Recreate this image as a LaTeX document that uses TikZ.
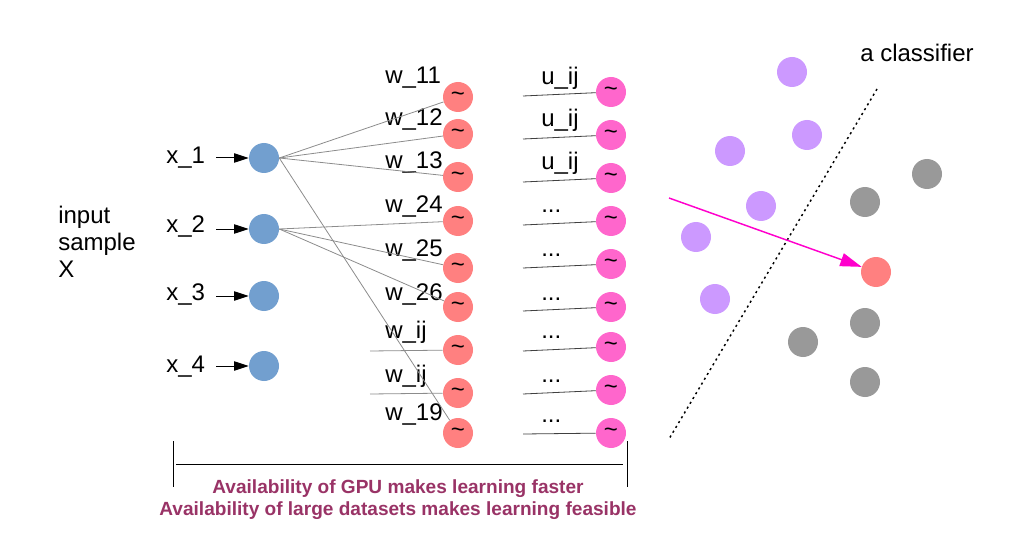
\documentclass[tikz,border=0pt]{standalone}
\usepackage{fontspec}
\setmainfont{Liberation Sans}
\usepackage{tikz}
\usetikzlibrary{arrows.meta,
	positioning
}
\definecolor{InBlue}{HTML}{729FCF}
\definecolor{HidRed}{HTML}{FF8080}
\definecolor{OutPink}{HTML}{FF66CC}
\definecolor{ClassA}{HTML}{CC99FF}
\definecolor{ClassB}{HTML}{999999}
\definecolor{PathMag}{HTML}{FF00CC}
\definecolor{NoteRed}{HTML}{993366}
\tikzset{Perceptron/.style = {
		x=0.75pt, y=-0.75pt,
		every node/.style = {inner sep=0pt, font=\fontsize{18}{20.25}\selectfont},
		neuron/.style = {circle, minimum size=22.5pt, font=\fontsize{18}{18}\selectfont},
		inunit/.style = {neuron, fill=InBlue},
		hidunit/.style = {neuron, fill=HidRed},
		outunit/.style = {neuron, fill=OutPink},
		sampledot/.style = {circle, minimum size=22.5pt},
		wlabel/.style = {anchor=base west},
		weight/.style = {draw=black!45, line width=0.6pt},
		uweight/.style = {draw=black!75, line width=0.6pt},
		inarrow/.style = {-{Triangle[length=11pt, width=7pt]}, line width=0.75pt,
			shorten <=8.25pt},
		boundary/.style = {line width=1.1pt, dash pattern=on 1.6pt off 2.6pt},
		notetext/.style = {align=center, text=NoteRed,
			font=\fontsize{14.3}{16.5}\selectfont\bfseries},
	}% end of Perceptron style
}

\begin{document}
\begin{tikzpicture}[Perceptron]
  \useasboundingbox (0,0) rectangle (1021,556);

  % input layer
  \node[wlabel, align=left] (sample) at (58,277) {input\\sample\\X};
  \node[inunit] (in1) at (264,158) {};
  \node[inunit] (in2) at (264,229) {};
  \node[inunit] (in3) at (264,296) {};
  \node[inunit] (in4) at (264,366) {};
  \node[wlabel] (xl1) at (166,164) {x\_1};
  \node[wlabel] (xl2) at (166,233) {x\_2};
  \node[wlabel] (xl3) at (166,300) {x\_3};
  \node[wlabel] (xl4) at (166,372) {x\_4};
  \draw[inarrow] (xl1.east |- in1) -- (in1);
  \draw[inarrow] (xl2.east |- in2) -- (in2);
  \draw[inarrow] (xl3.east |- in3) -- (in3);
  \draw[inarrow] (xl4.east |- in4) -- (in4);

  % hidden layer
  \node[hidunit] (h1) at (458,97) {\textasciitilde};
  \node[hidunit] (h2) at (458,134) {\textasciitilde};
  \node[hidunit] (h3) at (458,177) {\textasciitilde};
  \node[hidunit] (h4) at (458,221) {\textasciitilde};
  \node[hidunit] (h5) at (458,268) {\textasciitilde};
  \node[hidunit] (h6) at (458,307) {\textasciitilde};
  \node[hidunit] (h7) at (458,350) {\textasciitilde};
  \node[hidunit] (h8) at (458,393) {\textasciitilde};
  \node[hidunit] (h9) at (458,433) {\textasciitilde};
  \node[wlabel] (wl1) at (385,84) {w\_11};
  \node[wlabel] (wl2) at (385,126) {w\_12};
  \node[wlabel] (wl3) at (385,169) {w\_13};
  \node[wlabel] (wl4) at (385,213) {w\_24};
  \node[wlabel] (wl5) at (385,257) {w\_25};
  \node[wlabel] (wl6) at (385,300) {w\_26};
  \node[wlabel] (wl7) at (385,338) {w\_ij};
  \node[wlabel] (wl8) at (385,382) {w\_ij};
  \node[wlabel] (wl9) at (385,420) {w\_19};
  \coordinate (wf7) at (370,351);
  \coordinate (wf8) at (370,394);
  \draw[weight] (in1.east) -- (h1);
  \draw[weight] (in1.east) -- (h2);
  \draw[weight] (in1.east) -- (h3);
  \draw[weight] (in1.east) -- (h9);
  \draw[weight] (in2.east) -- (h4);
  \draw[weight] (in2.east) -- (h5);
  \draw[weight] (in2.east) -- (h6);
  \draw[weight] (wf7) -- (h7);
  \draw[weight] (wf8) -- (h8);

  % output layer
  \node[outunit] (o1) at (611,92) {\textasciitilde};
  \node[outunit] (o2) at (611,135) {\textasciitilde};
  \node[outunit] (o3) at (611,178) {\textasciitilde};
  \node[outunit] (o4) at (611,221) {\textasciitilde};
  \node[outunit] (o5) at (611,264) {\textasciitilde};
  \node[outunit] (o6) at (611,307) {\textasciitilde};
  \node[outunit] (o7) at (611,347) {\textasciitilde};
  \node[outunit] (o8) at (611,390) {\textasciitilde};
  \node[outunit] (o9) at (611,433) {\textasciitilde};
  \node[wlabel] (ul1) at (541,85) {u\_ij};
  \node[wlabel] (ul2) at (541,127) {u\_ij};
  \node[wlabel] (ul3) at (541,170) {u\_ij};
  \node[wlabel] (ul4) at (541,213) {...};
  \node[wlabel] (ul5) at (541,257) {...};
  \node[wlabel] (ul6) at (541,300) {...};
  \node[wlabel] (ul7) at (541,338) {...};
  \node[wlabel] (ul8) at (541,382) {...};
  \node[wlabel] (ul9) at (541,422) {...};
  \coordinate (uf1) at (523,96);
  \coordinate (uf2) at (523,139);
  \coordinate (uf3) at (523,182);
  \coordinate (uf4) at (523,225);
  \coordinate (uf5) at (523,268);
  \coordinate (uf6) at (523,311);
  \coordinate (uf7) at (523,351);
  \coordinate (uf8) at (523,394);
  \coordinate (uf9) at (523,434);
  \draw[uweight] (uf1) -- (o1);
  \draw[uweight] (uf2) -- (o2);
  \draw[uweight] (uf3) -- (o3);
  \draw[uweight] (uf4) -- (o4);
  \draw[uweight] (uf5) -- (o5);
  \draw[uweight] (uf6) -- (o6);
  \draw[uweight] (uf7) -- (o7);
  \draw[uweight] (uf8) -- (o8);
  \draw[uweight] (uf9) -- (o9);

  % bracket and note
  \draw[line width=0.75pt] (173,441) -- (173,487);
  \draw[line width=0.75pt] (627,441) -- (627,487);
  \draw[line width=0.75pt] (176,464) -- (623,464);
  \node[notetext, anchor=base] (note) at (398,515)
    {Availability of GPU makes learning faster\\Availability of large datasets makes learning feasible};

  % classifier
  \node[wlabel] (cltext) at (860,62) {a classifier};
  \coordinate (cltop) at (877,89);
  \coordinate (clbot) at (669,439);
  \draw[boundary] (cltop) -- (clbot);
  \node[sampledot, fill=ClassA] (a1) at (792,72) {};
  \node[sampledot, fill=ClassA] (a2) at (807,135) {};
  \node[sampledot, fill=ClassA] (a3) at (730,151) {};
  \node[sampledot, fill=ClassA] (a4) at (761,206) {};
  \node[sampledot, fill=ClassA] (a5) at (696,237) {};
  \node[sampledot, fill=ClassA] (a6) at (715,299) {};
  \node[sampledot, fill=ClassB] (b1) at (927,174) {};
  \node[sampledot, fill=ClassB] (b2) at (865,202) {};
  \node[sampledot, fill=ClassB] (b3) at (865,323) {};
  \node[sampledot, fill=ClassB] (b4) at (803,342) {};
  \node[sampledot, fill=ClassB] (b5) at (865,382) {};
  \node[sampledot, fill=HidRed] (query) at (876,272) {};
  \coordinate (qstart) at (669,198);
  \draw[PathMag, line width=1.1pt, -{Triangle[length=16pt, width=10pt]}] (qstart) -- (query);
\end{tikzpicture}
\end{document}
